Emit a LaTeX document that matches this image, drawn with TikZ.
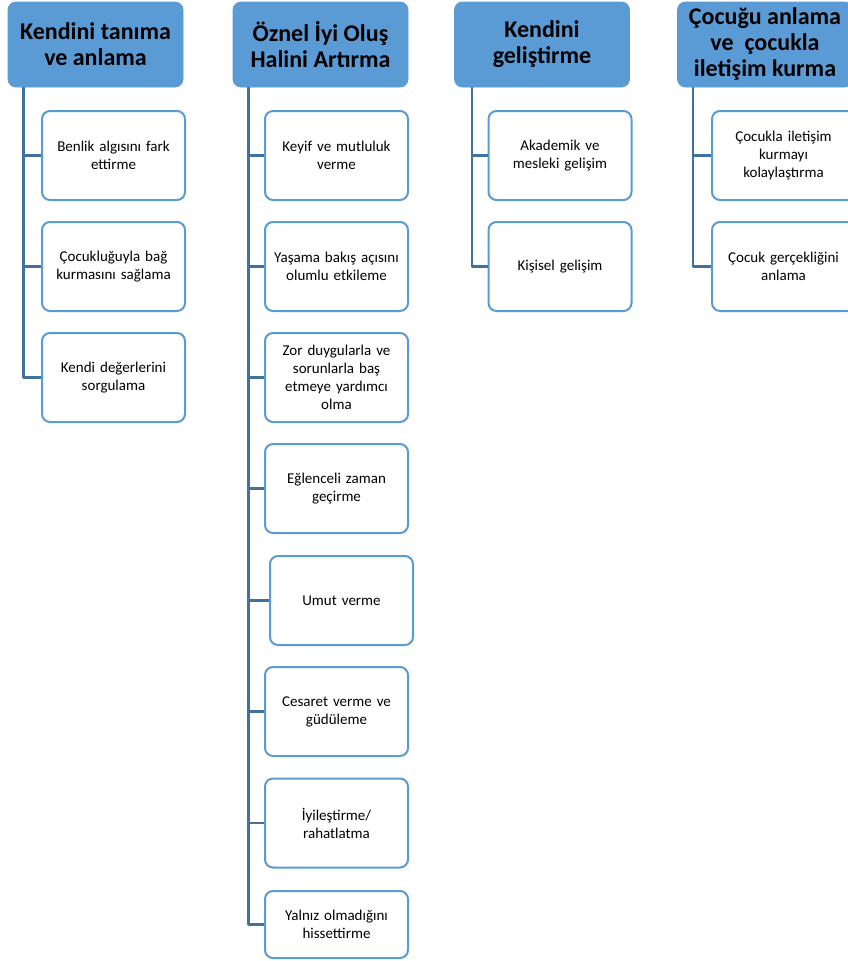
\documentclass[tikz,border=0pt]{standalone}
\usepackage{fontspec}
\setmainfont{Carlito}
\definecolor{hdrblue}{HTML}{5B9BD5}
\definecolor{lineblue}{HTML}{41719C}
\tikzset{
	head/.style={draw=hdrblue, line width=.8pt, fill=hdrblue, rounded corners=8pt,
		minimum width=175pt, minimum height=85pt, align=center, inner sep=2pt,
		font=\fontsize{24}{26}\selectfont\bfseries},
	item/.style={draw=hdrblue, line width=2pt, fill=white, rounded corners=8pt,
		minimum width=143pt, minimum height=89pt, text width=136pt, align=center,
		inner sep=2pt, font=\fontsize{15}{18}\selectfont},
	link/.style={draw=lineblue, line width=2.5pt, line cap=butt}
}
\begin{document}
\begin{tikzpicture}[x=1pt,y=-1pt, line join=round]
	\def\W{848} \def\H{961}
	\useasboundingbox[fill=white] (0,0) rectangle (\W,\H);
	\clip (0,0) rectangle (\W,\H);
	%ba\c{s}l\i klar
	\node[head] (h1) at (95.5,44.5) {Kendini tanıma\\ve anlama};
	\node[head] (h2) at (320.5,44.5) {Öznel İyi Oluş\\Halini Artırma};
	\node[head] (h3) at (542,44.5) {Kendini\\geliştirme};
	\node[head] (h4) at (765,44.5) {Çocuğu anlama\\ve\ \ çocukla\\iletişim kurma};
	%1. s\"utun
	\node[item] (a1) at (113.5,155.5) {Benlik algısını fark\\ettirme};
	\node[item] (a2) at (113.5,266.5) {Çocukluğuyla bağ\\kurmasını sağlama};
	\node[item] (a3) at (113.5,377.5) {Kendi değerlerini\\sorgulama};
	%2. s\"utun
	\node[item] (b1) at (336.5,155.5) {Keyif ve mutluluk\\verme};
	\node[item] (b2) at (336.5,266.5) {Yaşama bakış açısını\\olumlu etkileme};
	\node[item] (b3) at (336.5,377.5) {Zor duygularla ve\\sorunlarla baş\\etmeye yardımcı\\olma};
	\node[item] (b4) at (336.5,488.5) {Eğlenceli zaman\\geçirme};
	\node[item] (b5) at (341.5,600.5) {Umut verme};
	\node[item] (b6) at (336.5,711.5) {Cesaret verme ve\\güdüleme};
	\node[item] (b7) at (336.5,823) {İyileştirme/\\rahatlatma};
	\node[item, minimum height=67pt] (b8) at (336.5,924.5) {Yalnız olmadığını\\hissettirme};
	%3. s\"utun
	\node[item] (c1) at (560,155.5) {Akademik ve\\mesleki gelişim};
	\node[item] (c2) at (560,266.5) {Kişisel gelişim};
	%4. s\"utun
	\node[item] (d1) at (783.5,155.5) {Çocukla iletişim\\kurmayı\\kolaylaştırma};
	\node[item] (d2) at (783.5,266.5) {Çocuk gerçekliğini\\anlama};
	%ba\u{g}lant\i lar
	\coordinate (t1) at ([xshift=16pt]h1.south west);
	\coordinate (t2) at ([xshift=16pt]h2.south west);
	\coordinate (t3) at ([xshift=18pt]h3.south west);
	\coordinate (t4) at ([xshift=16pt]h4.south west);
	\foreach \n in {a1,a2,a3} \draw[link] (t1) |- (\n.west);
	\foreach \n in {b1,b2,b3,b4,b5,b6,b7,b8} \draw[link] (t2) |- (\n.west);
	\foreach \n in {c1,c2} \draw[link] (t3) |- (\n.west);
	\foreach \n in {d1,d2} \draw[link] (t4) |- (\n.west);
\end{tikzpicture}
\end{document}
